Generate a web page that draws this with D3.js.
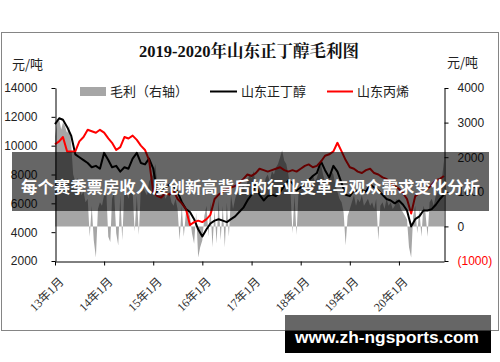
<!DOCTYPE html>
<html><head><meta charset="utf-8">
<script src="https://cdn.jsdelivr.net/npm/d3@7/dist/d3.min.js"></script>
<style>
html,body{margin:0;padding:0;background:#fff;}
svg{display:block;}
</style></head>
<body>
<script>
// ---- data ----
const title = "2019-2020年山东正丁醇毛利图";
const legendLabels = ["毛利（右轴）", "山东正丁醇", "山东丙烯"];
const leftTicks = [2000, 4000, 6000, 8000, 10000, 12000, 14000];
const rightTicks = [-1000, 0, 1000, 2000, 3000, 4000];
const xTickYears = [2013, 2014, 2015, 2016, 2017, 2018, 2019, 2020];
// monthly, Jan 2013 .. Dec 2020
const butanol = [
 11500,11900,11800,11300,10700,9400,9200,9000,8800,8500,8600,8400,
 9500,9000,8500,8600,8200,8500,8400,9100,9500,8800,8700,9100,
 8400,6700,6900,7100,7300,7200,6800,6100,5600,5400,4900,4200,
 3700,4200,4600,4800,4900,4800,4700,4900,5100,5400,5700,6200,
 6600,7300,6600,6200,6500,6600,6500,6800,7200,7600,7400,6900,
 7100,7400,7600,7900,8100,8900,8300,7800,8600,8200,7400,6600,
 6500,6900,6800,6900,6800,7300,7100,6900,6600,6300,6200,6000,
 6200,5900,5500,4400,4900,5100,5500,5500,5600,5900,6300,6600];
const propylene = [
 10100,10300,10600,9600,9600,9600,10300,10600,11100,11000,10900,11100,
 10900,10500,10200,9700,9900,10600,10500,10700,10400,10000,9700,9000,
 6800,6500,6400,6700,6600,6900,6300,6000,5600,4500,4700,4800,
 4700,4900,5200,6300,6600,6800,7000,7100,7200,7400,7700,8000,
 7900,8100,8400,8300,8200,8300,8400,8500,8300,8200,8300,8200,
 8400,8600,8700,8500,8600,8900,9300,9400,9600,10200,9600,9000,
 8500,8400,8200,8100,8300,8400,8100,8000,7800,7700,7400,7200,
 7000,6700,6300,5300,6500,6700,6800,7000,7300,7600,7700,7900];
// half-monthly gross margin (right axis)
const margin2013 = [2600,3000,3100,2800,3000,2900,2700,2900,2400,1500,1300,1400,1200,900,1000,700,800,-300,600,-400,-900,500,700,600];
const margin2014 = [900,1100,-300,-450,800,1000,-200,-550,900,-400,1100,1000,800,1200,1000,-150,900,-250,1100,1200,1000,900,1300,1400];
const margin2015 = [1500,1800,1200,1000,900,1100,800,900,1000,700,600,800,500,-400,600,-300,400,500,300,-200,-500,400,-900,-600];
const margin2016 = [-400,300,600,-300,700,-600,500,-500,800,-400,600,-600,700,-300,900,500,800,1000,900,1100,1200,1000,1300,1500];
const margin2017 = [1400,1600,1200,1000,1300,900,1100,1400,1500,1300,1600,1500,1700,1800,2000,2200,1900,1800,1500,1100,-200,900,-250,1000];
const margin2018 = [1100,1200,1300,1000,1200,1400,1500,1300,1400,1600,1800,1500,1300,1200,1400,1600,1500,1200,1000,800,700,400,-550,300];
const margin2019 = [500,700,900,600,800,700,900,600,700,800,600,700,500,800,-400,600,700,500,800,600,700,500,600,800];
const margin2020 = [700,500,400,300,200,-600,-900,300,600,-200,500,-300,600,400,-300,700,800,600,900,1000,1200,1400,1900];
const bannerText = "每个赛季票房收入屡创新高背后的行业变革与观众需求变化分析";
const watermark = "www.zh-ngsports.com";

// ---- build ----
const W = 500, H = 362;
const svg = d3.select("body").append("svg").attr("width", W).attr("height", H);

const monthly = (arr) => arr.map((v, i) => ({d: new Date(2013, i, 1), v}));
const marginAll = [].concat(margin2013, margin2014, margin2015, margin2016, margin2017, margin2018, margin2019, margin2020)
  .map((v, i) => ({d: new Date(2013, Math.floor(i / 2), i % 2 ? 16 : 1), v}));

const x = d3.scaleTime().domain([new Date(2013, 0, 1), new Date(2020, 11, 1)]).range([55, 444]);
const yL = d3.scaleLinear().domain([2000, 14000]).range([261, 88]);
const yR = d3.scaleLinear().domain([-1000, 4000]).range([261, 88]);

// frame
svg.append("rect").attr("x", 1.5).attr("y", 32.5).attr("width", 497).attr("height", 298)
  .attr("fill", "#fff").attr("stroke", "#858585").attr("stroke-width", 1);

// gray area
svg.append("path").datum(marginAll)
  .attr("d", d3.area().x(d => x(d.d)).y0(yR(0)).y1(d => yR(d.v)))
  .attr("fill", "#a6a6a6");

// lines
const line = (ys) => d3.line().x(d => x(d.d)).y(d => ys(d.v));
svg.append("path").datum(monthly(butanol)).attr("d", line(yL))
  .attr("fill", "none").attr("stroke", "#000").attr("stroke-width", 2).attr("stroke-linejoin", "round");
svg.append("path").datum(monthly(propylene)).attr("d", line(yL))
  .attr("fill", "none").attr("stroke", "#ff0000").attr("stroke-width", 2).attr("stroke-linejoin", "round");

// axes
const axFont = "'Liberation Sans', Arial, sans-serif";
const gL = svg.append("g").attr("transform", "translate(55.5,0)")
  .call(d3.axisLeft(yL).tickValues(leftTicks).tickSize(4).tickSizeOuter(0).tickFormat(d3.format("d")));
gL.selectAll("text").attr("x", -18).attr("font-size", 12).attr("font-family", axFont).attr("fill", "#222");
const gR = svg.append("g").attr("transform", "translate(444.5,0)")
  .call(d3.axisRight(yR).tickValues(rightTicks).tickSize(4).tickSizeOuter(0)
    .tickFormat(d => d < 0 ? "(" + Math.abs(d) + ")" : String(d)));
gR.selectAll("text").attr("x", 13).attr("font-size", 12).attr("font-family", axFont)
  .attr("fill", d => d < 0 ? "#ff0000" : "#222");
const gX = svg.append("g").attr("transform", "translate(0,261.5)")
  .call(d3.axisBottom(x).tickValues(xTickYears.map(yv => new Date(yv, 0, 1))).tickSize(4).tickSizeOuter(0)
    .tickFormat(d3.timeFormat("%y年%-m月")));
gX.selectAll("text")
  .attr("font-size", 12).attr("font-family", "'Liberation Serif', 'Noto Sans CJK SC', serif").attr("fill", "#333")
  .attr("text-anchor", "end").attr("x", 0).attr("y", 0).attr("dy", "0.35em")
  .attr("transform", "translate(6,18) rotate(-45)");
svg.selectAll(".domain").attr("stroke", "#000");
svg.selectAll(".tick line").attr("stroke", "#000");

// title & units
svg.append("text").attr("x", 249).attr("y", 57).attr("text-anchor", "middle")
  .attr("font-family", "'Liberation Serif', 'Noto Serif CJK SC', 'Noto Sans CJK SC', serif")
  .attr("font-weight", "bold").attr("font-size", 16.5).attr("fill", "#111").text(title);
svg.append("text").attr("x", 12).attr("y", 69).attr("font-family", "'Noto Sans CJK SC', sans-serif")
  .attr("font-size", 13).attr("fill", "#222").text("元/吨");
svg.append("text").attr("x", 447).attr("y", 67).attr("font-family", "'Noto Sans CJK SC', sans-serif")
  .attr("font-size", 13).attr("fill", "#222").text("元/吨");

// legend
const lg = svg.append("g").attr("font-family", "'Noto Sans CJK SC', sans-serif").attr("font-size", 13).attr("fill", "#222");
lg.append("rect").attr("x", 80).attr("y", 87).attr("width", 26).attr("height", 9).attr("fill", "#a6a6a6");
lg.append("text").attr("x", 110).attr("y", 96).text(legendLabels[0]);
lg.append("line").attr("x1", 210).attr("x2", 237).attr("y1", 91.5).attr("y2", 91.5).attr("stroke", "#000").attr("stroke-width", 2);
lg.append("text").attr("x", 241).attr("y", 96).text(legendLabels[1]);
lg.append("line").attr("x1", 327).attr("x2", 353).attr("y1", 91.5).attr("y2", 91.5).attr("stroke", "#ff0000").attr("stroke-width", 2);
lg.append("text").attr("x", 357).attr("y", 96).text(legendLabels[2]);

// banner overlay
svg.append("rect").attr("x", 12).attr("y", 152).attr("width", 477).attr("height", 59).attr("fill", "rgba(0,0,0,0.6)");
svg.append("text").attr("x", 250.5).attr("y", 193).attr("text-anchor", "middle")
  .attr("font-family", "'Noto Sans CJK SC', sans-serif").attr("font-weight", "bold").attr("font-size", 16.4)
  .attr("fill", "#fff").text(bannerText);

// watermark
svg.append("rect").attr("x", 285).attr("y", 315).attr("width", 206).attr("height", 16).attr("fill", "rgba(0,0,0,0.6)");
svg.append("rect").attr("x", 285).attr("y", 331).attr("width", 206).attr("height", 22).attr("fill", "#000");
svg.append("text").attr("x", 295).attr("y", 343).attr("font-family", "'Liberation Sans', Arial, sans-serif")
  .attr("font-weight", "bold").attr("font-size", 17.3).attr("fill", "#fff")
  .attr("textLength", 184).attr("lengthAdjust", "spacingAndGlyphs").text(watermark);
</script>
</body></html>
